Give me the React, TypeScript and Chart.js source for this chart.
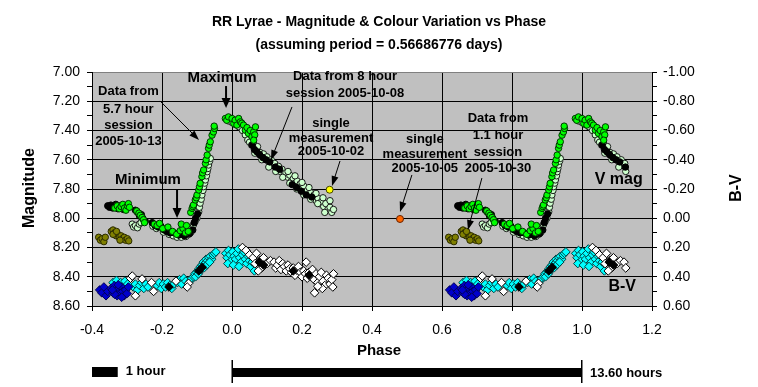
import React, { useEffect, useRef } from 'react';
import { Chart, registerables } from 'chart.js';

Chart.register(...registerables);

// ---------------- DATA (phase, value) ----------------
const periodHours = 13.6;
const repeatLimit = 0.125; // phases <= this are also shown one cycle later

// V magnitude, 5.7 hour session 2005-10-13 (green)
const greenV: [number, number][] = [
  [-0.335, 7.93], [-0.328, 7.915], [-0.322, 7.935], [-0.317, 7.92], [-0.312, 7.905], [-0.307, 7.93], [-0.303, 7.945], [-0.299, 7.915], [-0.296, 7.9], [-0.293, 7.925],
  [-0.272, 7.95], [-0.266, 7.965], [-0.262, 7.98], [-0.257, 7.995], [-0.253, 8.01], [-0.25, 8.03],
  [-0.222, 8.04], [-0.214, 8.05], [-0.207, 8.035], [-0.198, 8.07], [-0.183, 8.06], [-0.17, 8.09], [-0.158, 8.11], [-0.148, 8.085], [-0.14, 8.07], [-0.133, 8.1], [-0.125, 8.09], [-0.145, 8.04], [-0.13, 8.05],
  [-0.118, 7.96], [-0.114, 7.932], [-0.112, 7.92], [-0.11, 7.909], [-0.105, 7.875], [-0.102, 7.86], [-0.1, 7.841], [-0.095, 7.807], [-0.093, 7.785], [-0.091, 7.761], [-0.086, 7.716], [-0.084, 7.69], [-0.081, 7.67], [-0.076, 7.625], [-0.074, 7.6], [-0.071, 7.568], [-0.067, 7.522], [-0.065, 7.5], [-0.062, 7.477], [-0.057, 7.432], [-0.053, 7.41], [-0.05, 7.386], [-0.051, 7.37],
  [-0.019, 7.318], [-0.015, 7.33], [-0.01, 7.307], [0.0, 7.318], [0.005, 7.352], [0.009, 7.329], [0.014, 7.363], [0.019, 7.318], [0.024, 7.341], [0.028, 7.35], [0.033, 7.363], [0.038, 7.398], [0.043, 7.38], [0.047, 7.42], [0.052, 7.4], [0.057, 7.443], [0.062, 7.409], [0.065, 7.43], [0.067, 7.375], [0.062, 7.466],
];

// V magnitude, black points
const blackV: [number, number][] = [
  [-0.355, 7.915], [-0.35, 7.925], [-0.346, 7.91], [-0.341, 7.93], [-0.337, 7.92], [-0.332, 7.905], [-0.326, 7.935], [-0.319, 7.915], [-0.31, 7.94], [-0.301, 7.93],
  [-0.276, 7.945], [-0.27, 7.96], [-0.264, 7.985], [-0.259, 7.975], [-0.255, 8.0], [-0.248, 8.02],
  [-0.228, 8.03], [-0.22, 8.05], [-0.211, 8.06], [-0.203, 8.055], [-0.194, 8.08], [-0.186, 8.09], [-0.177, 8.1], [-0.165, 8.1], [-0.152, 8.115], [-0.143, 8.11], [-0.136, 8.12], [-0.121, 8.105], [-0.112, 8.08],
  [-0.108, 8.03], [-0.104, 8.0], [-0.098, 7.97],
  [0.058, 7.5], [0.064, 7.53], [0.071, 7.545], [0.079, 7.565], [0.088, 7.585], [0.097, 7.6], [0.108, 7.615], [0.124, 7.65], [0.136, 7.665],
  [0.172, 7.77], [0.185, 7.79], [0.198, 7.815], [0.212, 7.84], [0.228, 7.855],
];

// V magnitude, 8 hour session 2005-10-08 (pale green)
const paleV: [number, number][] = [
  [-0.285, 8.04], [-0.281, 8.06], [-0.276, 8.05], [-0.27, 8.065], [-0.265, 8.04], [-0.26, 8.03],
  [-0.226, 8.055], [-0.216, 8.07], [-0.196, 8.095], [-0.18, 8.11], [-0.168, 8.12], [-0.157, 8.13], [-0.145, 8.13], [-0.132, 8.125], [-0.124, 8.11], [-0.117, 8.095],
  [-0.124, 8.091], [-0.11, 8.045], [-0.105, 8.02], [-0.1, 8.0], [-0.095, 7.955], [-0.093, 7.925], [-0.091, 7.897], [-0.088, 7.87], [-0.086, 7.841], [-0.083, 7.81], [-0.081, 7.784], [-0.078, 7.76], [-0.076, 7.738], [-0.073, 7.71], [-0.071, 7.682], [-0.069, 7.66], [-0.067, 7.636], [-0.064, 7.61], [-0.062, 7.591],
  [-0.01, 7.335], [0.0, 7.345], [0.01, 7.36], [0.02, 7.375], [0.03, 7.4], [0.038, 7.43], [0.045, 7.465], [0.05, 7.48], [0.056, 7.5], [0.062, 7.49], [0.068, 7.53], [0.073, 7.51], [0.08, 7.55], [0.085, 7.57], [0.09, 7.56], [0.096, 7.595], [0.1, 7.58], [0.106, 7.62], [0.112, 7.6], [0.118, 7.64], [0.122, 7.625],
  [0.128, 7.66], [0.133, 7.645], [0.138, 7.68], [0.143, 7.665], [0.149, 7.7], [0.154, 7.69], [0.16, 7.72], [0.165, 7.705], [0.17, 7.745], [0.175, 7.73], [0.18, 7.76], [0.186, 7.745], [0.19, 7.785], [0.195, 7.765], [0.2, 7.8], [0.205, 7.78], [0.21, 7.825], [0.215, 7.81], [0.22, 7.845], [0.225, 7.825], [0.23, 7.86], [0.235, 7.84], [0.24, 7.88], [0.246, 7.865], [0.25, 7.9], [0.256, 7.885], [0.262, 7.92], [0.268, 7.9], [0.274, 7.94], [0.28, 7.925], [0.285, 7.96], [0.29, 7.94],
  [0.265, 7.96], [0.245, 7.9], [0.225, 7.87], [0.205, 7.84], [0.185, 7.8], [0.165, 7.76], [0.145, 7.72], [0.125, 7.68], [0.105, 7.65], [0.085, 7.6], [0.065, 7.555],
  [0.16, 7.68], [0.18, 7.71], [0.2, 7.755], [0.22, 7.79], [0.24, 7.83], [0.26, 7.86], [0.28, 7.88],
];

// V magnitude, 1.1 hour session 2005-10-30 (olive)
const oliveV: [number, number][] = [
  [-0.381, 8.13], [-0.376, 8.15], [-0.371, 8.14], [-0.366, 8.16], [-0.362, 8.13], [-0.345, 8.09], [-0.34, 8.08], [-0.336, 8.1], [-0.331, 8.12], [-0.326, 8.11], [-0.322, 8.13], [-0.317, 8.12], [-0.313, 8.14], [-0.308, 8.13], [-0.304, 8.15], [-0.299, 8.14], [-0.295, 8.155], [-0.34, 8.11], [-0.32, 8.15], [-0.33, 8.09],
];

// single measurements
const single1002: [number, number][] = [[0.279, 7.805]];
const single1005: [number, number][] = [[0.48, 8.005]];

// B-V colour index
const blueBV: [number, number][] = [
  [-0.378, 0.49], [-0.372, 0.51], [-0.366, 0.47], [-0.36, 0.53], [-0.355, 0.5], [-0.345, 0.48], [-0.34, 0.51], [-0.336, 0.46], [-0.332, 0.5], [-0.328, 0.53], [-0.324, 0.48], [-0.32, 0.51], [-0.316, 0.47], [-0.312, 0.5], [-0.308, 0.53], [-0.304, 0.49], [-0.3, 0.515], [-0.296, 0.47], [-0.335, 0.52], [-0.325, 0.455], [-0.315, 0.54], [-0.342, 0.49],
];
const cyanBV: [number, number][] = [
  [-0.34, 0.44], [-0.33, 0.425], [-0.318, 0.44], [-0.306, 0.43], [-0.298, 0.45],
  [-0.282, 0.47], [-0.276, 0.45], [-0.27, 0.49], [-0.264, 0.46], [-0.258, 0.44], [-0.252, 0.48], [-0.246, 0.45], [-0.24, 0.47],
  [-0.214, 0.46], [-0.208, 0.44], [-0.202, 0.48], [-0.196, 0.45], [-0.19, 0.47], [-0.184, 0.44], [-0.178, 0.46], [-0.172, 0.48], [-0.166, 0.45],
  [-0.156, 0.44], [-0.15, 0.42], [-0.144, 0.45], [-0.138, 0.41], [-0.132, 0.43],
  [-0.12, 0.43], [-0.115, 0.41], [-0.11, 0.4], [-0.106, 0.38], [-0.102, 0.37], [-0.098, 0.36], [-0.094, 0.345], [-0.09, 0.33], [-0.086, 0.32], [-0.082, 0.3], [-0.078, 0.31], [-0.074, 0.28], [-0.07, 0.29], [-0.066, 0.27], [-0.062, 0.26], [-0.058, 0.28], [-0.054, 0.25], [-0.05, 0.24], [-0.046, 0.23], [-0.104, 0.4], [-0.096, 0.38], [-0.088, 0.35], [-0.08, 0.34], [-0.072, 0.32], [-0.064, 0.3],
  [-0.018, 0.24], [-0.014, 0.27], [-0.01, 0.22], [-0.006, 0.25], [-0.002, 0.29], [0.002, 0.23], [0.006, 0.26], [0.01, 0.28], [0.014, 0.24], [0.018, 0.21], [0.022, 0.27], [0.026, 0.3], [0.03, 0.25], [0.034, 0.23], [0.038, 0.28], [0.042, 0.31], [0.046, 0.26], [0.05, 0.29], [0.054, 0.33], [0.058, 0.3], [0.064, 0.36], [-0.012, 0.31], [0.004, 0.32], [0.02, 0.33],
];
const whiteBV: [number, number][] = [
  [-0.29, 0.41], [-0.285, 0.395], [-0.276, 0.53], [-0.257, 0.415], [-0.23, 0.44], [-0.224, 0.5], [-0.16, 0.43], [-0.124, 0.445], [-0.128, 0.47],
  [0.03, 0.2], [0.04, 0.22], [0.05, 0.25], [0.06, 0.27], [0.07, 0.24], [0.08, 0.29], [0.09, 0.27], [0.1, 0.31], [0.11, 0.29], [0.066, 0.31], [0.085, 0.34], [0.075, 0.36],
  [0.12, 0.3], [0.125, 0.34], [0.13, 0.32], [0.135, 0.29], [0.14, 0.35], [0.145, 0.31], [0.15, 0.33], [0.155, 0.36], [0.16, 0.32], [0.165, 0.345], [0.17, 0.37], [0.175, 0.34], [0.18, 0.39], [0.185, 0.355], [0.19, 0.33], [0.195, 0.37], [0.2, 0.4], [0.205, 0.36], [0.21, 0.38], [0.212, 0.3], [0.215, 0.41], [0.22, 0.37], [0.225, 0.395], [0.23, 0.35], [0.235, 0.42], [0.236, 0.51], [0.24, 0.38], [0.245, 0.44], [0.25, 0.4], [0.255, 0.37], [0.26, 0.43], [0.265, 0.46], [0.27, 0.39], [0.275, 0.41], [0.28, 0.45], [0.285, 0.42], [0.29, 0.38], [0.288, 0.47], [0.258, 0.48], [0.245, 0.465],
];
const blackBV: [number, number][] = [
  [-0.095, 0.36], [-0.085, 0.335], [0.078, 0.3], [0.09, 0.32], [0.175, 0.36], [0.22, 0.39], [-0.18, 0.47],
];

// ---------------- helpers ----------------
const FONT = '"Liberation Sans", Arial, Helvetica, sans-serif';

function phased(pts: [number, number][], repeat = true) {
  const out = pts.map(([x, y]) => ({ x, y }));
  if (repeat) pts.forEach(([x, y]) => { if (x <= repeatLimit) out.push({ x: x + 1, y }); });
  return out;
}

function txt(ctx: CanvasRenderingContext2D, s: string, x: number, y: number, size: number, bold = true, align: CanvasTextAlign = 'center') {
  ctx.font = `${bold ? 'bold ' : ''}${size}px ${FONT}`;
  ctx.textAlign = align;
  ctx.textBaseline = 'middle';
  ctx.fillStyle = '#000';
  ctx.fillText(s, x, y);
}

function arrow(ctx: CanvasRenderingContext2D, x1: number, y1: number, x2: number, y2: number, lw: number, hl: number, hw: number) {
  const a = Math.atan2(y2 - y1, x2 - x1);
  const c = Math.cos(a), s = Math.sin(a);
  ctx.strokeStyle = '#000';
  ctx.fillStyle = '#000';
  ctx.lineWidth = lw;
  ctx.beginPath();
  ctx.moveTo(x1, y1);
  ctx.lineTo(x2 - c * hl * 0.7, y2 - s * hl * 0.7);
  ctx.stroke();
  ctx.beginPath();
  ctx.moveTo(x2, y2);
  ctx.lineTo(x2 - hl * c + (hw / 2) * s, y2 - hl * s - (hw / 2) * c);
  ctx.lineTo(x2 - hl * c - (hw / 2) * s, y2 - hl * s + (hw / 2) * c);
  ctx.closePath();
  ctx.fill();
}

// annotations in data units (phase, magnitude)
const notes = [
  { lines: ['Data from', '5.7 hour', 'session', '2005-10-13'], p: -0.296, m: [7.135, 7.253, 7.367, 7.477] },
  { lines: ['Data from 8 hour', 'session 2005-10-08'], p: 0.323, m: [7.032, 7.146] },
  { lines: ['single', 'measurement', '2005-10-02'], p: 0.283, m: [7.349, 7.451, 7.545] },
  { lines: ['single', 'measurement', '2005-10-05'], p: 0.551, m: [7.458, 7.561, 7.656] },
  { lines: ['Data from', '1.1 hour', 'session', '2005-10-30'], p: 0.76, m: [7.3145, 7.431, 7.552, 7.656] },
];
const arrows = [
  { from: [-0.2057, 7.198], to: [-0.0943, 7.465], w: 1, hl: 10, hw: 7 },
  { from: [0.1714, 7.239], to: [0.1114, 7.602], w: 1, hl: 10, hw: 7 },
  { from: [0.3086, 7.6085], to: [0.2857, 7.7795], w: 1, hl: 10, hw: 7 },
  { from: [0.514, 7.704], to: [0.48, 7.957], w: 1, hl: 10, hw: 7 },
  { from: [0.714, 7.725], to: [0.674, 8.08], w: 1, hl: 10, hw: 7 },
  { from: [-0.017, 7.096], to: [-0.017, 7.246], w: 2, hl: 10, hw: 9 },
  { from: [-0.157, 7.8], to: [-0.157, 7.998], w: 2, hl: 10, hw: 9 },
];

const decor = {
  id: 'decor',
  beforeDraw(chart: any) {
    const { ctx, chartArea: a } = chart;
    ctx.save();
    ctx.fillStyle = '#ffffff';
    ctx.fillRect(0, 0, chart.width, chart.height);
    ctx.fillStyle = '#C0C0C0';
    ctx.fillRect(a.left, a.top, a.right - a.left, a.bottom - a.top);
    ctx.restore();
  },
  afterDraw(chart: any) {
    const { ctx } = chart;
    const xs = chart.scales.x, ys = chart.scales.y;
    const X = (p: number) => xs.getPixelForValue(p);
    const Y = (m: number) => ys.getPixelForValue(m);
    ctx.save();
    // titles
    txt(ctx, 'RR Lyrae - Magnitude & Colour Variation vs Phase', 379, 22, 14);
    txt(ctx, '(assuming period = 0.56686776 days)', 379, 45, 14);
    // axis titles
    txt(ctx, 'Phase', 379, 351, 15);
    ctx.save(); ctx.translate(30, 188); ctx.rotate(-Math.PI / 2); txt(ctx, 'Magnitude', 0, 0, 16); ctx.restore();
    ctx.save(); ctx.translate(737, 188); ctx.rotate(-Math.PI / 2); txt(ctx, 'B-V', 0, 0, 16); ctx.restore();
    // annotations
    txt(ctx, 'Maximum', X(-0.0286), Y(7.041), 15);
    txt(ctx, 'Minimum', X(-0.24), Y(7.738), 15);
    txt(ctx, 'V mag', X(1.105), Y(7.738), 16);
    txt(ctx, 'B-V', X(1.115), Y(8.47), 16);
    notes.forEach((n) => n.lines.forEach((l, i) => txt(ctx, l, X(n.p), Y(n.m[i]), 13)));
    arrows.forEach((r) => arrow(ctx, X(r.from[0]), Y(r.from[1]), X(r.to[0]), Y(r.to[1]), r.w, r.hl, r.hw));
    // time scale bars
    ctx.fillStyle = '#000';
    const h1a = X(-0.4), h1b = X(-0.4 + 1 / periodHours);
    ctx.fillRect(h1a, 367, h1b - h1a, 10);
    txt(ctx, '1 hour', h1b + 8, 371, 13, true, 'left');
    const pa = X(0), pb = X(1);
    ctx.fillRect(pa, 368, pb - pa, 9);
    ctx.fillRect(pa - 0.5, 360, 1.5, 23);
    ctx.fillRect(pb - 1, 360, 1.5, 23);
    txt(ctx, periodHours.toFixed(2) + ' hours', pb + 8, 373, 13, true, 'left');
    ctx.restore();
  },
};

const circle = (label: string, pts: [number, number][], fill: string, border: string, repeat = true, r = 3.2) => ({
  label, data: phased(pts, repeat), yAxisID: 'y', pointStyle: 'circle', pointRadius: r,
  backgroundColor: fill, borderColor: border, borderWidth: 1, showLine: false,
});
const diamond = (label: string, pts: [number, number][], fill: string, border: string) => ({
  label, data: phased(pts), yAxisID: 'y2', pointStyle: 'rectRot', pointRadius: 4.3,
  backgroundColor: fill, borderColor: border, borderWidth: 1, showLine: false,
});

const major = (v: number) => Math.round(v * 10) % 2 === 0;

export default function App() {
  const ref = useRef<HTMLCanvasElement>(null);
  useEffect(() => {
    const chart = new Chart(ref.current as HTMLCanvasElement, {
      type: 'scatter',
      data: {
        datasets: [
          circle('2005-10-05', single1005, '#FF6600', '#662200', false, 3.5),
          circle('2005-10-02', single1002, '#FFFF00', '#444400', false, 3.5),
          circle('2005-10-13', greenV, '#00FF00', '#003300'),
          circle('black', blackV, '#000000', '#000000'),
          circle('2005-10-08', paleV, '#CCFFCC', '#1a1a1a'),
          circle('2005-10-30', oliveV, '#808000', '#2a2a00'),
          diamond('B-V black', blackBV, '#000000', '#000000'),
          diamond('B-V white', whiteBV, '#FFFFFF', '#000000'),
          diamond('B-V blue', blueBV, '#0000CC', '#000055'),
          diamond('B-V cyan', cyanBV, '#00FFFF', '#004444'),
        ] as any,
      },
      options: {
        responsive: false,
        animation: false,
        devicePixelRatio: 1,
        layout: { padding: { top: 72, left: 0, right: 0, bottom: 0 } },
        plugins: { legend: { display: false }, tooltip: { enabled: false }, title: { display: false } },
        scales: {
          x: {
            type: 'linear', min: -0.4, max: 1.2,
            afterFit: (s: any) => { s.height = 81; },
            ticks: { stepSize: 0.2, callback: (v: any) => Number(v).toFixed(1), color: '#000', font: { size: 14, family: FONT }, padding: 11, maxRotation: 0, autoSkip: false },
            grid: { color: '#000', lineWidth: 1, tickLength: 5, tickColor: '#000' },
            border: { display: true, color: '#000', width: 1 },
          },
          y: {
            type: 'linear', position: 'left', min: 7, max: 8.6, reverse: true,
            afterFit: (s: any) => { s.width = 92; },
            ticks: { stepSize: 0.1, autoSkip: false, callback: (v: any) => (major(Number(v)) ? Number(v).toFixed(2) : ''), color: '#000', font: { size: 14, family: FONT }, padding: 7 },
            grid: {
              color: (c: any) => {
                const v = c.tick ? c.tick.value : 0;
                if (Math.round(v * 10) === 70) return '#808080';
                return major(v) ? '#000' : 'rgba(0,0,0,0)';
              },
              lineWidth: 1, tickLength: 5, tickColor: '#000',
            },
            border: { display: true, color: '#000', width: 1 },
          },
          y2: {
            type: 'linear', position: 'right', min: -1, max: 0.6, reverse: true,
            afterFit: (s: any) => { s.width = 106; },
            ticks: { stepSize: 0.1, autoSkip: false, callback: (v: any) => (major(Number(v)) ? Number(v).toFixed(2) : ''), color: '#000', font: { size: 14, family: FONT }, padding: 6 },
            grid: { drawOnChartArea: false, tickLength: 5, tickColor: '#000', color: '#000' },
            border: { display: true, color: '#000', width: 1 },
          },
        },
      },
      plugins: [decor],
    } as any);
    return () => chart.destroy();
  }, []);
  return (
    <div style={{ position: 'absolute', left: 0, top: 0, width: 758, height: 387, background: '#fff' }}>
      <canvas ref={ref} width={758} height={387} style={{ display: 'block' }} />
    </div>
  );
}
